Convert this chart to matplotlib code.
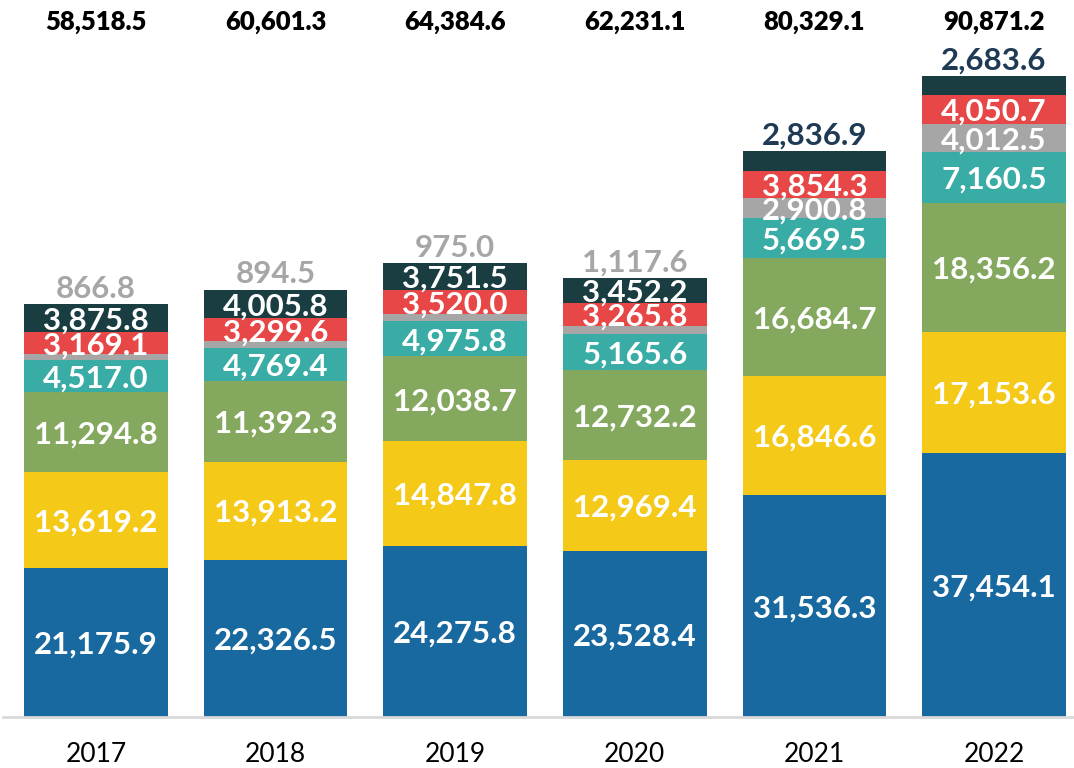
import matplotlib.pyplot as plt
import numpy as np

# values per year, bottom segment first
years = ['2017', '2018', '2019', '2020', '2021', '2022']
blue = [21175.9, 22326.5, 24275.8, 23528.4, 31536.3, 37454.1]
yellow = [13619.2, 13913.2, 14847.8, 12969.4, 16846.6, 17153.6]
green = [11294.8, 11392.3, 12038.7, 12732.2, 16684.7, 18356.2]
teal = [4517.0, 4769.4, 4975.8, 5165.6, 5669.5, 7160.5]
gray = [866.8, 894.5, 975.0, 1117.6, 2900.8, 4012.5]
red = [3169.1, 3299.6, 3520.0, 3265.8, 3854.3, 4050.7]
dark = [3875.8, 4005.8, 3751.5, 3452.2, 2836.9, 2683.6]
totals = [58518.5, 60601.3, 64384.6, 62231.1, 80329.1, 90871.2]

series = [blue, yellow, green, teal, gray, red, dark]
colors = ['#17699F', '#F5C918', '#84A95E', '#3AACA6', '#A6A6A6', '#E84747', '#1A3D42']

fig = plt.figure(figsize=(10.74, 7.68), dpi=100)
ax = fig.add_axes([3 / 1074, 51 / 768, 1071 / 1074, 717 / 768])

x = np.arange(len(years))
step = 179.6
ax.set_xlim(-93 / step, -93 / step + 1071 / step)
ymax = 717 / 7.05 * 1000
ax.set_ylim(0, ymax)

lab_font = dict(family='Lato', fontweight='bold', fontsize=22.5)

bottom = np.zeros(len(years))
for k, (vals, col) in enumerate(zip(series, colors)):
    vals = np.array(vals)
    ax.bar(x, vals, width=0.80, bottom=bottom, color=col, linewidth=0)
    for i in range(len(years)):
        txt = f'{vals[i]:,.1f}'
        small_gray = gray[i] < 1500
        if k == 4 and small_gray:
            # gray label sits above the bar
            ax.text(x[i], totals[i] + 200, txt, ha='center', va='bottom',
                    color='#A6A6A6', **lab_font)
        elif k == 6 and not small_gray:
            ax.text(x[i], totals[i] + 200, txt, ha='center', va='bottom',
                    color='#1F3A55', **lab_font)
        else:
            ax.text(x[i], bottom[i] + vals[i] / 2, txt, ha='center', va='center_baseline',
                    color='white', **lab_font)
    bottom = bottom + vals

# totals on top row
for i in range(len(years)):
    ax.text(x[i], (717 - 22) / 7.05 * 1000, f'{totals[i]:,.1f}', ha='center', va='center',
            family='Lato', fontweight='heavy', fontsize=18.5, color='black')

for s in ['top', 'right', 'left']:
    ax.spines[s].set_visible(False)
ax.spines['bottom'].set_color('#D9D9D9')
ax.spines['bottom'].set_linewidth(2)
ax.set_yticks([])
ax.set_xticks(x)
ax.set_xticklabels(years, family='Lato', fontsize=19)
ax.tick_params(axis='x', length=0, pad=18)

fig.savefig('out.png', dpi=100)
